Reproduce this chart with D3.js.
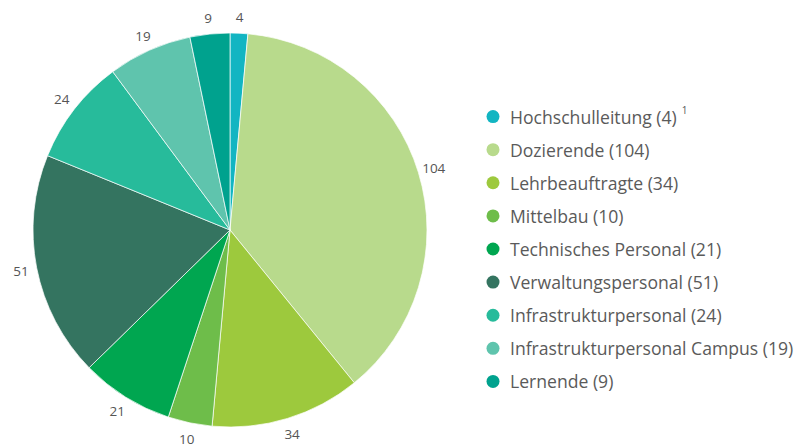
<!DOCTYPE html>
<html>
<head>
<meta charset="utf-8">
<script src="https://cdn.jsdelivr.net/npm/d3@7"></script>
<style>
  html, body { margin: 0; padding: 0; background: #fff; }
  svg { display: block; }
</style>
</head>
<body>
<svg id="chart" width="800" height="447"></svg>
<script>
const categories = ["Hochschulleitung", "Dozierende", "Lehrbeauftragte", "Mittelbau", "Technisches Personal", "Verwaltungspersonal", "Infrastrukturpersonal", "Infrastrukturpersonal Campus", "Lernende"];
const values = [4, 104, 34, 10, 21, 51, 24, 19, 9];
const colors = ["#12b5c2", "#b8da8c", "#9dc93d", "#6ebd4a", "#00a650", "#347460", "#27bb9b", "#5fc4ad", "#00a28e"];
const footnotes = ["1", "", "", "", "", "", "", "", ""];

const svg = d3.select("#chart");
const cx = 230, cy = 230, R = 197, labelR = 213;
const font = "'Open Sans', 'Noto Sans', sans-serif";

const data = categories.map((c, i) => ({ name: c, value: values[i], color: colors[i], note: footnotes[i] }));

const pie = d3.pie().value(d => d.value).sort(null);
const arc = d3.arc().innerRadius(0).outerRadius(R);
const arcs = pie(data);

const g = svg.append("g").attr("transform", `translate(${cx},${cy})`);
g.selectAll("path").data(arcs).join("path")
  .attr("d", arc)
  .attr("fill", d => d.data.color)
  .attr("stroke", "#fff")
  .attr("stroke-width", 0.7);

const labelArc = d3.arc().innerRadius(labelR).outerRadius(labelR);
g.selectAll("text.lbl").data(arcs).join("text")
  .attr("class", "lbl")
  .attr("transform", d => `translate(${labelArc.centroid(d)})`)
  .attr("text-anchor", "middle")
  .attr("dominant-baseline", "central")
  .attr("font-family", font)
  .attr("font-size", 13.5)
  .attr("fill", "#555")
  .text(d => d.data.value);

// Legend
const ly = d3.scaleBand().domain(categories).range([100, 398]).paddingInner(0).paddingOuter(0);
const lg = svg.append("g");
const rows = lg.selectAll("g").data(data).join("g")
  .attr("transform", d => `translate(493,${ly(d.name) + ly.bandwidth() / 2})`);
rows.append("circle").attr("r", 6.5).attr("fill", d => d.color);
const txt = rows.append("text")
  .attr("x", 17)
  .attr("dominant-baseline", "central")
  .attr("font-family", font)
  .attr("font-size", 17.6)
  .attr("fill", "#5a5a5a")
  .text(d => `${d.name} (${d.value})`);
txt.filter(d => d.note).append("tspan")
  .attr("dx", 5)
  .attr("dy", -7)
  .attr("font-size", 10)
  .text(d => d.note);
</script>
</body>
</html>
